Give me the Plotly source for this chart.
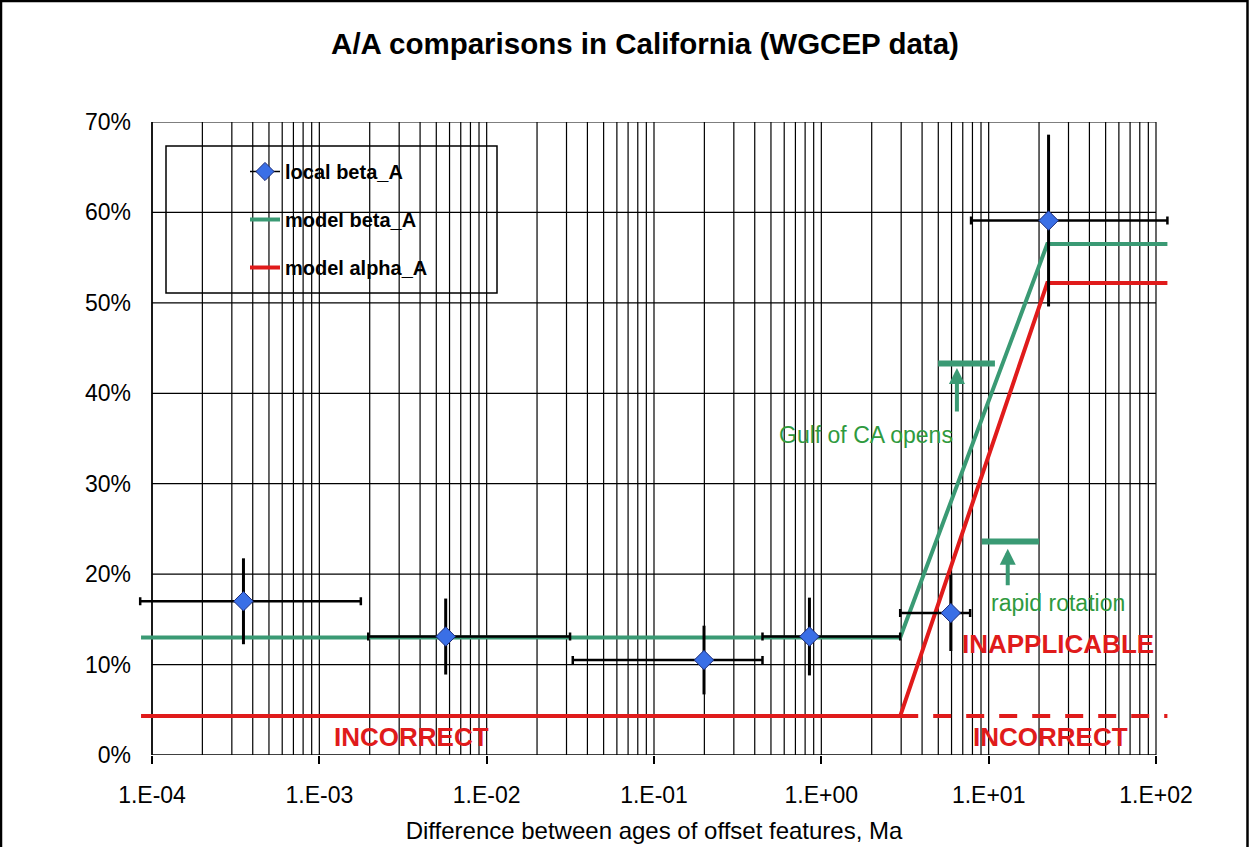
import math
import plotly.graph_objects as go

# ---------------- data ----------------
pt_age = [3.52e-4, 5.69e-3, 0.199, 0.849, 5.94, 22.8]
pt_beta = [17.0, 13.1, 10.5, 13.1, 15.7, 59.1]
pt_age_lo = [8.5e-5, 1.96e-3, 0.0327, 0.445, 2.96, 7.85]
pt_age_hi = [1.77e-3, 0.0315, 0.445, 2.96, 7.75, 117.0]
pt_beta_err = [4.75, 4.2, 3.8, 4.3, 4.2, 9.5]

model_age = [8.6e-5, 2.96, 22.4, 117.0]
model_beta = [13.0, 13.0, 56.5, 56.5]
model_alpha = [4.3, 4.3, 52.2, 52.2]
alpha_dash_age = [2.96, 117.0]
alpha_dash_val = [4.3, 4.3]

x_tick_vals = [1e-4, 1e-3, 1e-2, 1e-1, 1e0, 1e1, 1e2]
x_tick_text = ["1.E-04", "1.E-03", "1.E-02", "1.E-01", "1.E+00", "1.E+01", "1.E+02"]
y_tick_vals = [0, 10, 20, 30, 40, 50, 60, 70]
y_tick_text = ["0%", "10%", "20%", "30%", "40%", "50%", "60%", "70%"]

# ---------------- style ----------------
FONT = "Arial, 'Liberation Sans', sans-serif"
GREEN = "#3a9a74"
TEXT_GREEN = "#2f9a3e"
RED = "#e01b1b"
BLUE = "#3a6fe6"
W, H = 1249, 847
ML, MR, MT, MB = 138, 79, 122, 92
DEC = 167.33
PAD = 14 / DEC


def px(x):
    return (x - ML) / (W - ML - MR)


def py(y):
    return (H - MB - y) / (H - MT - MB)


fig = go.Figure()

# legend-only entry for the points (line + diamond)
fig.add_trace(go.Scatter(
    x=[None], y=[None], mode="lines+markers", name="local beta_A", legendgroup="g1",
    line=dict(color="black", width=1.5),
    marker=dict(symbol="diamond", size=14, color=BLUE, line=dict(color="#1b2b7a", width=1)),
))
fig.add_trace(go.Scatter(
    x=model_age, y=model_beta, mode="lines", name="model beta_A", legendgroup="g2",
    line=dict(color=GREEN, width=4),
))
fig.add_trace(go.Scatter(
    x=model_age, y=model_alpha, mode="lines", name="model alpha_A", legendgroup="g3",
    line=dict(color=RED, width=4),
))
fig.add_trace(go.Scatter(
    x=alpha_dash_age, y=alpha_dash_val, mode="lines", showlegend=False, legendgroup="g3",
    line=dict(color=RED, width=4, dash="18px,15px"),
))
fig.add_trace(go.Scatter(
    x=pt_age, y=pt_beta, mode="markers", showlegend=False,
    marker=dict(symbol="diamond", size=15, color=BLUE, line=dict(color="#1b2b7a", width=1)),
    error_x=dict(type="data", symmetric=False,
                 array=[h - x for h, x in zip(pt_age_hi, pt_age)],
                 arrayminus=[x - l for x, l in zip(pt_age, pt_age_lo)],
                 color="black", thickness=2.5, width=4),
    error_y=dict(type="data", array=pt_beta_err, color="black", thickness=3, width=0),
))

shapes = []
# vertical grid lines (major + minor, log)
for d in range(-4, 2):
    for m in range(1, 10):
        v = m * 10 ** d
        shapes.append(dict(type="line", xref="x", yref="y", x0=v, x1=v, y0=0, y1=70,
                           line=dict(color="black", width=1.2), layer="below"))
shapes.append(dict(type="line", xref="x", yref="y", x0=100, x1=100, y0=0, y1=70,
                   line=dict(color="black", width=1.2), layer="below"))
# horizontal grid lines
for v in y_tick_vals[1:]:
    shapes.append(dict(type="line", xref="x", yref="y", x0=1e-4, x1=1e2, y0=v, y1=v,
                       line=dict(color="black", width=1.2), layer="below"))
# axis lines
shapes.append(dict(type="line", xref="x", yref="y", x0=1e-4, x1=1e-4, y0=0, y1=70,
                   line=dict(color="black", width=1.5), layer="below"))
shapes.append(dict(type="line", xref="x", yref="y", x0=1e-4, x1=1e2, y0=0, y1=0,
                   line=dict(color="black", width=1.5), layer="below"))
# y tick marks
for v in y_tick_vals:
    shapes.append(dict(type="line", xref="x", yref="y", xsizemode="pixel", xanchor=1e-4,
                       x0=-7, x1=0, y0=v, y1=v, line=dict(color="black", width=1.5), layer="below"))
# legend box
shapes.append(dict(type="rect", xref="paper", yref="paper",
                   x0=px(166), x1=px(497), y0=py(293), y1=py(146),
                   line=dict(color="black", width=1.5), fillcolor="white", layer="below"))
# green marker bars
shapes.append(dict(type="line", xref="x", yref="y", x0=4.99, x1=10.9, y0=43.3, y1=43.3,
                   line=dict(color=GREEN, width=6)))
shapes.append(dict(type="line", xref="x", yref="y", x0=9.1, x1=20.0, y0=23.6, y1=23.6,
                   line=dict(color=GREEN, width=6)))
# outer border (left, top, right)
shapes.append(dict(type="path", xref="paper", yref="paper",
                   path=f"M {px(1)},{py(847)} L {px(1)},{py(1)} L {px(1247.5)},{py(1)} L {px(1247.5)},{py(847)}",
                   line=dict(color="black", width=2.5)))

annotations = [
    dict(x=math.log10(6.46), y=42.8, xref="x", yref="y", text="", showarrow=True,
         ax=0, ay=45, axref="pixel", ayref="pixel", arrowhead=2, arrowsize=0.8,
         arrowwidth=4, arrowcolor=GREEN, standoff=0),
    dict(x=math.log10(13.0), y=22.8, xref="x", yref="y", text="", showarrow=True,
         ax=0, ay=38, axref="pixel", ayref="pixel", arrowhead=2, arrowsize=0.8,
         arrowwidth=4, arrowcolor=GREEN, standoff=0),
    dict(x=math.log10(1.85), y=35.4, xref="x", yref="y", text="Gulf of CA opens", showarrow=False,
         font=dict(family=FONT, size=23, color=TEXT_GREEN)),
    dict(x=math.log10(26.0), y=16.8, xref="x", yref="y", text="rapid rotation", showarrow=False,
         font=dict(family=FONT, size=23, color=TEXT_GREEN)),
    dict(x=math.log10(25.9), y=12.3, xref="x", yref="y", text="<b>INAPPLICABLE</b>", showarrow=False,
         font=dict(family=FONT, size=26, color=RED)),
    dict(x=math.log10(23.3), y=2.0, xref="x", yref="y", text="<b>INCORRECT</b>", showarrow=False,
         font=dict(family=FONT, size=26, color=RED)),
    dict(x=math.log10(3.56e-3), y=2.0, xref="x", yref="y", text="<b>INCORRECT</b>", showarrow=False,
         font=dict(family=FONT, size=26, color=RED)),
]

fig.update_layout(
    width=W, height=H,
    margin=dict(l=ML, r=MR, t=MT, b=MB, autoexpand=False),
    paper_bgcolor="white", plot_bgcolor="white",
    font=dict(family=FONT, color="black"),
    title=dict(text="<b>A/A comparisons in California (WGCEP data)</b>", x=645 / W, xanchor="center",
               y=1 - 44 / H, yanchor="middle", font=dict(family=FONT, size=29.5, color="black")),
    xaxis=dict(type="log", range=[-4 - PAD, 2 + PAD], tickmode="array", tickvals=x_tick_vals,
               ticktext=x_tick_text, ticks="outside", ticklen=8, tickwidth=1.5, tickcolor="black",
               showgrid=False, zeroline=False, showline=False, ticklabelstandoff=11,
               automargin=False,
               tickfont=dict(family=FONT, size=23, color="black"),
               title=dict(text="Difference between ages of offset features, Ma", standoff=15,
                          font=dict(family=FONT, size=24, color="black"))),
    yaxis=dict(range=[0, 70], tickmode="array", tickvals=y_tick_vals, ticktext=y_tick_text,
               ticks="", showgrid=False, zeroline=False, showline=False, ticklabelstandoff=6,
               automargin=False,
               tickfont=dict(family=FONT, size=23, color="black")),
    legend=dict(x=px(245), y=py(152), xanchor="left", yanchor="top", bgcolor="rgba(0,0,0,0)",
                borderwidth=0, tracegroupgap=19,
                font=dict(family=FONT, size=20, color="black", weight="bold")),
    shapes=shapes,
    annotations=annotations,
)

fig.write_html("out.html")
